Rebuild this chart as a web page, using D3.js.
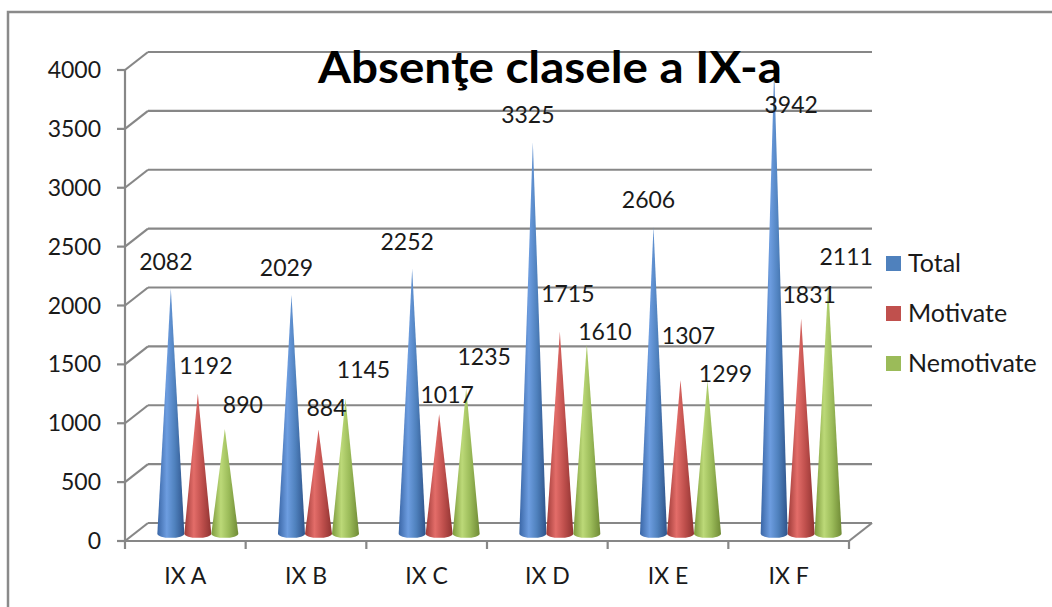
<!DOCTYPE html>
<html>
<head>
<meta charset="utf-8">
<script src="https://cdn.jsdelivr.net/npm/d3@7"></script>
<style>
    body { margin: 0; background: #fff; }
    text { font-family: Lato, "Open Sans", sans-serif; fill: #1a1a1a; }
</style>
</head>
<body>
<div id="chart"></div>
<script>

// -- data --

var title = "Absenţe clasele a IX-a";
var categories = ["IX A", "IX B", "IX C", "IX D", "IX E", "IX F"];
var seriesNames = ["Total", "Motivate", "Nemotivate"];
var total = [2082, 2029, 2252, 3325, 2606, 3942];
var motivate = [1192, 884, 1017, 1715, 1307, 1831];
var nemotivate = [890, 1145, 1235, 1610, 1299, 2111];
var yTicks = [0, 500, 1000, 1500, 2000, 2500, 3000, 3500, 4000];

var seriesValues = [total, motivate, nemotivate];

(function () {

    // -- layout --

    var width = 1052;
    var height = 607;

    var plotLeft = 125, plotRight = 849;   // front floor edge
    var plotTop = 70, plotBottom = 541;    // front y axis
    var depthX = 23, depthY = -18;         // offset of the back wall
    var coneR = 13.5;
    var coneRy = 4;
    var sw = 2.2;
    var gridColor = "#878787";

    // shaded colours of the cones: edge, light, mid, dark
    var palette = [
        ["#3a66a6", "#6d9de0", "#4f81bd", "#2e538a"],
        ["#9e3b38", "#e36d69", "#c0504d", "#8f3331"],
        ["#7c9a3c", "#bcd978", "#9bbb59", "#6f8a35"]
    ];

    var svg = d3.select("#chart").append("svg")
        .attr("width", width)
        .attr("height", height);

    // scales
    var x = d3.scaleBand()
        .domain(categories)
        .range([plotLeft, plotRight]);

    var y = d3.scaleLinear()
        .domain([0, 4000])
        .range([plotBottom, plotTop]);

    var slot = d3.scalePoint()
        .domain(seriesNames)
        .range([-27, 27]);

    // gradients
    var defs = svg.append("defs");
    palette.forEach(function (p, i) {
        var g = defs.append("linearGradient")
            .attr("id", "cone" + i)
            .attr("x1", 0).attr("x2", 1)
            .attr("y1", 0).attr("y2", 0);
        g.append("stop").attr("offset", "0%").attr("stop-color", p[0]);
        g.append("stop").attr("offset", "35%").attr("stop-color", p[1]);
        g.append("stop").attr("offset", "65%").attr("stop-color", p[2]);
        g.append("stop").attr("offset", "100%").attr("stop-color", p[3]);
    });

    // outer border
    svg.append("rect")
        .attr("x", 8).attr("y", 12)
        .attr("width", width + 20).attr("height", height + 20)
        .style("fill", "white")
        .style("stroke", "#8a8a8a")
        .style("stroke-width", 2.5);

    // back wall gridlines + left wall diagonals
    var grid = svg.append("g")
        .style("stroke", gridColor)
        .style("stroke-width", sw)
        .style("fill", "none");

    yTicks.forEach(function (t) {
        var yy = y(t);
        grid.append("line")
            .attr("x1", plotLeft + depthX).attr("x2", plotRight + depthX)
            .attr("y1", yy + depthY).attr("y2", yy + depthY);
        grid.append("line")
            .attr("x1", plotLeft).attr("x2", plotLeft + depthX)
            .attr("y1", yy).attr("y2", yy + depthY);
        // tick on front axis
        grid.append("line")
            .attr("x1", plotLeft - 8).attr("x2", plotLeft)
            .attr("y1", yy).attr("y2", yy);
    });

    // front y axis
    grid.append("line")
        .attr("x1", plotLeft).attr("x2", plotLeft)
        .attr("y1", y(4000)).attr("y2", plotBottom);

    // floor front + right edge
    grid.append("line")
        .attr("x1", plotLeft).attr("x2", plotRight)
        .attr("y1", plotBottom).attr("y2", plotBottom);
    grid.append("line")
        .attr("x1", plotRight).attr("x2", plotRight + depthX)
        .attr("y1", plotBottom).attr("y2", plotBottom + depthY);

    // category ticks
    categories.forEach(function (c) {
        var xx = x(c);
        grid.append("line")
            .attr("x1", xx).attr("x2", xx)
            .attr("y1", plotBottom).attr("y2", plotBottom + 8);
    });
    grid.append("line")
        .attr("x1", plotRight).attr("x2", plotRight)
        .attr("y1", plotBottom).attr("y2", plotBottom + 8);

    // y tick labels
    svg.append("g").selectAll("text")
        .data(yTicks)
        .enter().append("text")
        .attr("x", 101)
        .attr("y", function (d) { return y(d) + 8; })
        .attr("text-anchor", "end")
        .attr("font-size", "23px")
        .text(function (d) { return d; });

    // category labels
    svg.append("g").selectAll("text")
        .data(categories)
        .enter().append("text")
        .attr("x", function (d) { return x(d) + x.bandwidth() / 2; })
        .attr("y", 584)
        .attr("text-anchor", "middle")
        .attr("font-size", "23px")
        .text(function (d) { return d; });

    // cones
    function coneX(cat, s) {
        return x(cat) + x.bandwidth() / 2 + slot(s) + depthX / 2 + 1;
    }

    function coneBase() {
        return y(0) + depthY * 0.4;
    }

    function tipY(v) {
        return coneBase() - (y(0) - y(v));
    }

    var cones = svg.append("g");
    categories.forEach(function (cat, i) {
        seriesNames.forEach(function (s, j) {
            var cx = coneX(cat, s);
            var by = coneBase();
            var ty = tipY(seriesValues[j][i]);
            var path = "M" + (cx - coneR) + "," + by +
                " L" + cx + "," + ty +
                " L" + (cx + coneR) + "," + by +
                " A" + coneR + "," + coneRy + " 0 0 1 " + (cx - coneR) + "," + by + " Z";
            cones.append("path")
                .attr("d", path)
                .style("fill", "url(#cone" + j + ")");
        });
    });

    // data labels, placed above the tips
    var labelDx = [-5, 8, 18];
    var labelDy = [-27, -27, -24];
    var minGap = 38;
    var labels = svg.append("g");
    categories.forEach(function (cat, i) {
        var pos = seriesNames.map(function (s, j) {
            var v = seriesValues[j][i];
            var p = {v: v, x: coneX(cat, s) + labelDx[j], y: tipY(v) + labelDy[j]};
            // keep clear of the title
            if (p.y < y(3700)) {
                p.y = y(3700);
                p.x += 22;
            }
            return p;
        });

        // push red/green labels apart when they collide
        var a = pos[1], b = pos[2];
        var d = Math.abs(a.y - b.y);
        if (d < minGap) {
            var push = (minGap - d) / 2;
            if (a.y <= b.y) { a.y -= push; b.y += push; }
            else { a.y += push; b.y -= push; }
        }

        pos.forEach(function (p) {
            labels.append("text")
                .attr("x", p.x)
                .attr("y", p.y + 8)
                .attr("text-anchor", "middle")
                .attr("font-size", "23px")
                .text(p.v);
        });
    });

    // title
    svg.append("text")
        .attr("x", 550)
        .attr("y", 83)
        .attr("text-anchor", "middle")
        .attr("font-size", "44px")
        .attr("font-weight", "bold")
        .attr("textLength", 464)
        .attr("lengthAdjust", "spacingAndGlyphs")
        .style("fill", "#000")
        .text(title);

    // legend
    var legend = svg.append("g");
    seriesNames.forEach(function (s, j) {
        var ly = 263 + j * 50;
        legend.append("rect")
            .attr("x", 886).attr("y", ly - 7)
            .attr("width", 15).attr("height", 15)
            .style("fill", palette[j][2]);
        legend.append("text")
            .attr("x", 908).attr("y", ly + 9)
            .attr("font-size", "25px")
            .text(s);
    });

})();

</script>
</body>
</html>
